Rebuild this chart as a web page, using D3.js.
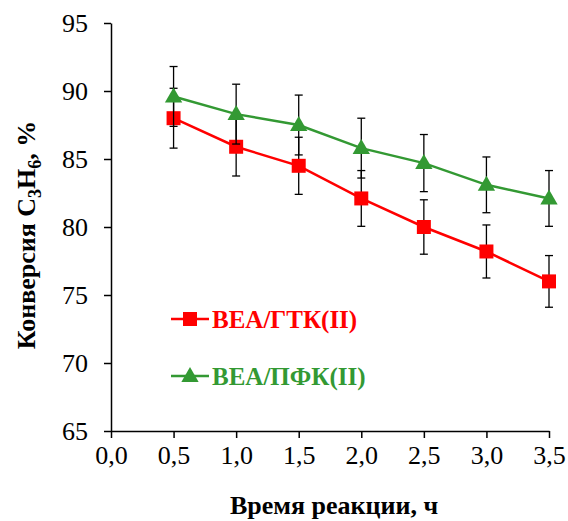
<!DOCTYPE html>
<html>
<head>
<meta charset="utf-8">
<script src="https://cdn.jsdelivr.net/npm/d3@7"></script>
</head>
<body style="margin:0;background:#fff">
<svg id="chart" width="568" height="521"></svg>
<script>
// Reaction time, h
const hours = [0.5, 1.0, 1.5, 2.0, 2.5, 3.0, 3.5];

// Conversion of C3H6, %
const gtkValues = [88.0, 85.9, 84.5, 82.1, 80.0, 78.2, 76.0];
const gtkErrors = [2.2, 2.15, 2.1, 2.05, 2.0, 1.95, 1.9];
const pfkValues = [89.6, 88.3, 87.5, 85.8, 84.7, 83.1, 82.1];
const pfkErrors = [2.2, 2.2, 2.2, 2.2, 2.1, 2.05, 2.05];

const xTicks = [0, 0.5, 1.0, 1.5, 2.0, 2.5, 3.0, 3.5];
const yTicks = [65, 70, 75, 80, 85, 90, 95];

const seriesNames = ["ВЕА/ГТК(II)", "ВЕА/ПФК(II)"];

const FONT = "Liberation Serif, Tinos, Times New Roman, serif";
const width = 568, height = 521;
const margin = { top: 23, right: 19, bottom: 90, left: 111 };

const svg = d3.select("#chart");
svg.append("style").text(`#chart text, #chart tspan { font-family: "Liberation Serif", Tinos, "Times New Roman", serif !important; }`);

const x = d3.scaleLinear()
  .domain([0, 3.5])
  .range([margin.left, width - margin.right]);

const y = d3.scaleLinear()
  .domain([65, 95])
  .range([height - margin.bottom, margin.top]);

const fmt = d => d3.format(".1f")(d).replace(".", ",");

// X axis
const xAxis = svg.append("g")
  .attr("transform", `translate(0,${y(65)})`)
  .call(d3.axisBottom(x).tickValues(xTicks).tickFormat(fmt).tickSize(7).tickSizeOuter(0).tickPadding(8))
  .attr("font-family", FONT)
  .attr("font-size", 26);
xAxis.select(".domain").attr("stroke", "#000").attr("stroke-width", 1.5);
xAxis.selectAll(".tick line").attr("stroke", "#000").attr("stroke-width", 1.5);
xAxis.selectAll("text").attr("font-family", FONT).attr("font-size", 26).attr("fill", "#000");

// Y axis
const yAxis = svg.append("g")
  .attr("transform", `translate(${x(0)},0)`)
  .call(d3.axisLeft(y).tickValues(yTicks).tickSize(7).tickSizeOuter(0).tickPadding(16))
  .attr("font-family", FONT)
  .attr("font-size", 26);
yAxis.select(".domain").attr("stroke", "#000").attr("stroke-width", 1.5);
yAxis.selectAll(".tick line").attr("stroke", "#000").attr("stroke-width", 1.5);
yAxis.selectAll("text").attr("font-family", FONT).attr("font-size", 26).attr("fill", "#000");

// Axis titles
svg.append("text")
  .attr("x", 334)
  .attr("y", 514)
  .attr("text-anchor", "middle")
  .attr("font-family", FONT)
  .attr("font-size", 26)
  .attr("font-weight", "bold")
  .text("Время реакции, ч");

const yTitle = svg.append("text")
  .attr("transform", "translate(35,235) rotate(-90)")
  .attr("text-anchor", "middle")
  .attr("font-family", FONT)
  .attr("font-size", 26)
  .attr("font-weight", "bold");
yTitle.append("tspan").text("Конверсия С");
yTitle.append("tspan").attr("font-size", 18).attr("dy", 6).text("3");
yTitle.append("tspan").attr("dy", -6).text("Н");
yTitle.append("tspan").attr("font-size", 18).attr("dy", 6).text("6");
yTitle.append("tspan").attr("dy", -6).text(",  %");

const series = [
  { name: seriesNames[0], values: gtkValues, errors: gtkErrors, color: "#ff0000", marker: "square" },
  { name: seriesNames[1], values: pfkValues, errors: pfkErrors, color: "#339933", marker: "triangle" }
];

const line = d3.line()
  .x((d, i) => x(hours[i]))
  .y(d => y(d));

const symbolFor = m => m === "square"
  ? d3.symbol().type(d3.symbolSquare).size(196)
  : d3.symbol().type(d3.symbolTriangle).size(130);

series.forEach(s => {
  const g = svg.append("g");

  // error bars
  const eb = g.selectAll(".err")
    .data(s.values)
    .enter()
    .append("g")
    .attr("stroke", "#000")
    .attr("stroke-width", 1.3);
  eb.append("line")
    .attr("x1", (d, i) => x(hours[i]))
    .attr("x2", (d, i) => x(hours[i]))
    .attr("y1", (d, i) => y(d + s.errors[i]))
    .attr("y2", (d, i) => y(d - s.errors[i]));
  [1, -1].forEach(sign => {
    eb.append("line")
      .attr("x1", (d, i) => x(hours[i]) - 4)
      .attr("x2", (d, i) => x(hours[i]) + 4)
      .attr("y1", (d, i) => y(d + sign * s.errors[i]))
      .attr("y2", (d, i) => y(d + sign * s.errors[i]));
  });

  g.append("path")
    .datum(s.values)
    .attr("fill", "none")
    .attr("stroke", s.color)
    .attr("stroke-width", 2.5)
    .attr("d", line);

  g.selectAll(".pt")
    .data(s.values)
    .enter()
    .append("path")
    .attr("transform", (d, i) => `translate(${x(hours[i])},${y(d) + (s.marker === "triangle" ? 1 : 0)})`)
    .attr("d", symbolFor(s.marker)())
    .attr("fill", s.color);
});

// Legend
const legend = svg.append("g");
series.forEach((s, i) => {
  const ly = 319 + i * 57;
  legend.append("line")
    .attr("x1", 171).attr("x2", 209)
    .attr("y1", ly).attr("y2", ly)
    .attr("stroke", s.color)
    .attr("stroke-width", 2.5);
  legend.append("path")
    .attr("transform", `translate(190,${ly + (s.marker === "triangle" ? 1 : 0)})`)
    .attr("d", symbolFor(s.marker)())
    .attr("fill", s.color);
  legend.append("text")
    .attr("x", 212)
    .attr("y", ly + 9)
    .attr("font-family", FONT)
    .attr("font-size", 25)
    .attr("font-weight", "bold")
    .attr("fill", s.color)
    .text(s.name);
});
</script>
</body>
</html>
